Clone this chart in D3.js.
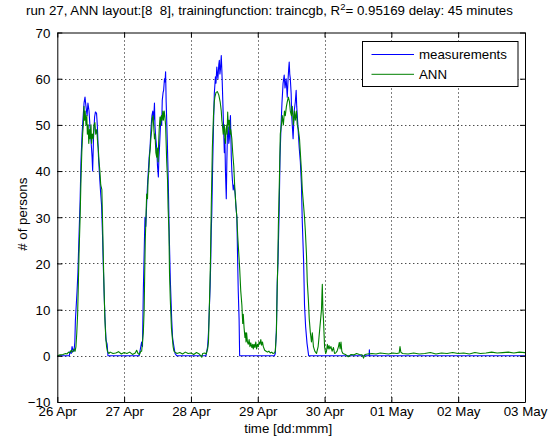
<!DOCTYPE html>
<html>
<head>
<meta charset="utf-8">
<script src="https://cdn.jsdelivr.net/npm/d3@7"></script>
<style>
  html, body { margin: 0; padding: 0; background: #fff; }
  svg { display: block; }
  text { font-family: "Liberation Sans", Arial, Helvetica, sans-serif; fill: #000; white-space: pre; }
</style>
</head>
<body>
<svg id="chart" width="550" height="439"></svg>
<script>
// ---------- data ----------
const titleMain = "run 27, ANN layout:[8  8], trainingfunction: traincgb, R";
const titleSup = "2";
const titleTail = "= 0.95169 delay: 45 minutes";
const xLabel = "time [dd:mmm]";
const yLabel = "# of persons";
const seriesNames = ["measurements", "ANN"];
const seriesColors = ["#0000ff", "#008000"];
const startDay = Date.UTC(2013, 3, 26);   // 26 Apr, 00:00
const dayTickLabels = ["26 Apr", "27 Apr", "28 Apr", "29 Apr", "30 Apr", "01 May", "02 May", "03 May"];
const yTicks = [-10, 0, 10, 20, 30, 40, 50, 60, 70];

// [hours since 26 Apr 00:00, persons]
const measurements = [
  [0,0],[4.3,0],[4.6,1],[5.0,0.5],[5.3,2],[5.7,1],[6.0,1],[6.3,3],[6.5,7.7],[7.1,14],[7.4,18],[7.8,26],
  [8.2,33.7],[8.5,42],[8.9,48],[9.2,51],[9.6,54.7],[9.95,56],[10.3,54],[10.7,52],[11,54.7],[11.4,53],
  [11.75,49.6],[12.1,46.7],[12.5,43],[12.7,40],[13,47],[13.4,51.7],[13.7,52.8],[14.1,52.5],[14.4,49.6],
  [14.8,43],[15.2,38.7],[15.5,35.9],[15.9,32.6],[16.2,27],[16.5,20],[16.8,14],[17.1,8.4],[17.5,3.4],
  [17.9,2.5],[18.2,0],
  [29.4,0],[29.7,1],[30.3,3],[30.6,2],[30.9,14],[31.3,25],[31.5,30],[31.8,28],[32.1,33],[32.4,37],
  [32.7,40],[33.0,43],[33.3,45],[33.7,49.6],[34.0,52],[34.3,53],[34.6,51],[34.9,54.7],[35.1,49.6],
  [35.4,47],[35.7,45],[36.0,41],[36.3,38.7],[36.5,43],[36.7,45],[37.0,49],[37.2,51.7],[37.5,50],
  [37.7,55.3],[38.0,57],[38.2,57.5],[38.5,60],[38.7,59.3],[38.9,61.5],[39.1,55],[39.3,51],[39.5,46.7],
  [39.7,42],[39.9,36.6],[40.2,26.5],[40.6,16.4],[41.1,7.7],[41.4,4],[41.7,2.7],[42.3,0.5],[42.9,0],
  [53.4,0],[53.7,1],[54.0,2],[54.3,5],[54.6,10],[54.9,15],[55.1,20],[55.3,27],[55.5,31],[55.8,41],
  [56.1,49.6],[56.4,56.8],[56.8,60.4],[57.0,59],[57.3,62.5],[57.5,61],[57.7,60],[58.0,63],[58.2,64],
  [58.4,61],[58.6,62],[58.9,65],[59.1,62],[59.3,58.2],[59.6,52],[59.8,48],[60.0,44],[60.2,47],[60.4,40],
  [60.6,36],[60.7,34],[60.9,42],[61.1,47.4],[61.4,49.6],[61.6,46],[61.8,47],[62.0,50],[62.2,52],
  [62.5,43],[62.7,40],[62.9,38],[63.2,35.9],[63.5,37],[63.9,35],[64.2,32],[64.5,30],[64.8,20],
  [65.0,14],[65.3,8],[65.5,0],
  [78.0,0],[78.3,0.5],[78.7,5.5],[79.0,15.7],[79.3,21],[79.7,31.5],[80.0,43],[80.4,50.3],[80.7,54.7],
  [81.1,59],[81.5,60.8],[81.8,58],[82.2,60],[82.6,56],[82.9,60],[83.1,62],[83.3,63.6],[83.5,61],
  [83.7,60],[84.0,56.8],[84.2,52],[84.4,50],[84.7,47],[84.9,50],[85.1,53],[85.5,55],[85.8,57.5],
  [86.0,54],[86.2,52],[86.6,48],[86.9,45],[87.3,42],[87.7,37],[88.0,29],[88.5,20],[88.8,11],
  [89.2,6.3],[89.7,2.7],[90.3,0],[112.0,0],[112.1,1.3],[112.2,0],[168,0]
];

const ann = [
  [0,0],[1,0.2],[2,0.3],[3,0.5],[3.5,0.4],[4,0.8],[4.5,0.6],[5,1.2],[5.5,0.8],[6,1.5],[6.4,1],[6.7,2],
  [7.0,5],[7.3,9],[7.5,14],[7.8,22],[8.2,30],[8.5,38],[8.8,44],[9.1,48],[9.35,50],[9.6,54],[9.8,51],
  [10,53],[10.3,50],[10.6,52],[10.8,48],[11.1,50],[11.3,46],[11.6,49],[11.8,47],[12.1,50],[12.3,46],
  [12.6,48],[12.9,47],[13.2,50],[13.5,50.5],[13.8,48],[14.2,49],[14.5,46],[14.7,45],[15.0,42],
  [15.3,40],[15.6,37],[16.0,36],[16.3,28],[16.5,22],[16.7,17],[16.9,12],[17.1,8],[17.4,4],[17.7,2],
  [18,1],[18.5,0.5],[19,0.8],[20,0.5],[21,0.6],[22,0.9],[23,0.4],[24,0.7],[25,0.5],[26,0.8],[27,0.3],
  [28,0.6],[28.5,1.2],[29,0.5],[29.5,0.3],[30,1],[30.3,1],[30.6,3],[30.9,5],[31.2,10],[31.4,18],
  [31.6,25],[31.9,31],[32.1,35],[32.4,34],[32.6,38],[32.9,40],[33.1,43],[33.4,45],[33.6,47],
  [33.9,48.8],[34.1,51.4],[34.4,52],[34.6,50],[34.9,47],[35.1,48],[35.4,44],[35.7,43],[35.9,45],
  [36.2,42],[36.4,46],[36.6,49],[36.9,51.7],[37.1,50],[37.4,52],[37.6,51],[37.9,53],[38.1,51],
  [38.4,53],[38.6,52],[38.9,50],[39.1,46],[39.3,42],[39.6,38],[39.8,32],[40.1,27],[40.3,18],
  [40.6,12],[40.8,9],[41.0,6],[41.3,4],[41.6,2],[41.9,1],[42.3,0.8],[43,0.5],[44,0.7],[45,0.4],
  [46,0.8],[47,0.5],[48,0.6],[49,0.3],[50,0.7],[51,0.4],[51.9,-0.3],[52.2,0.5],[53,0.6],[53.5,0.4],
  [54,1.5],[54.3,3],[54.6,10],[55.0,20],[55.3,32],[55.7,45],[56.1,52],[56.4,55],[56.6,56],[57.0,57],
  [57.5,57.2],[58.0,56.5],[58.5,55],[58.9,53],[59.1,51],[59.3,50],[59.6,48],[59.8,49],[60.0,50],
  [60.2,47],[60.4,46],[60.6,49],[60.9,50],[61.0,48],[61.2,52.8],[61.4,50],[61.6,51],[61.8,49],
  [61.9,51],[62.1,48],[62.3,49],[62.5,48],[62.7,47],[63.0,44],[63.4,41],[63.7,37],[64.1,33],
  [64.5,30],[64.8,26],[65.2,22],[65.5,19],[65.9,14],[66.3,11],[66.6,7],[66.8,9],[67.1,6],[67.4,4],
  [67.6,5],[67.8,3],[68.0,5],[68.3,3],[68.6,2.5],[68.9,3.5],[69.2,2],[69.5,2.8],[69.9,1.8],[70.2,2.5],
  [70.4,1.5],[70.7,2.5],[71.0,1.8],[71.3,3],[71.6,1.5],[71.9,2.5],[72.2,2],[72.5,3],[72.8,2.5],
  [73.1,3.5],[73.4,2.3],[73.7,3],[74,2],[74.5,1.2],[75,1],[75.5,0.8],[76,1],[76.5,0.6],[77,0.8],
  [77.5,0.5],[78,0.6],[78.3,1],[78.7,5],[79.0,15],[79.2,20],[79.4,28],[79.8,38.7],[80.1,48],
  [80.5,50],[80.8,52],[81.2,50],[81.6,53],[81.9,52],[82.3,54],[82.6,55],[83.0,56],[83.4,55],
  [83.7,53],[84.1,52],[84.4,54],[84.8,50],[85.2,53],[85.5,51],[85.9,53],[86.2,50],[86.6,49],
  [87.0,47],[87.3,44],[87.7,40],[88.0,36],[88.4,33],[88.8,30],[89.1,27],[89.5,22],[89.8,16],
  [90.2,12],[90.5,8],[90.9,5],[91.3,3],[91.6,5],[92.0,2],[92.5,1],[93.1,0.5],[93.7,2],[94.0,4],
  [94.3,6],[94.6,8],[94.9,10],[95.1,14],[95.2,15.5],[95.4,10],[95.6,8],[96.0,2],[96.4,0.5],[96.7,1],
  [97.0,2.5],[97.3,1.5],[97.6,2.2],[97.9,1.5],[98.3,2],[98.7,1],[99.2,1.8],[99.6,0.5],[100,0.6],
  [100.5,1],[101,2],[101.3,2.9],[101.6,1.5],[101.9,3],[102.2,1],[102.6,0.5],[103.5,0.3],[104.5,-0.2],
  [105.5,0.3],[106.5,0.2],[107.5,0.5],[108.5,0.3],[109.5,0.2],[110,-0.5],[110.5,0.3],[111.5,0.4],
  [113,0.5],[114.5,0.4],[116,0.6],[117.5,0.5],[119,0.4],[120.5,0.6],[122,0.5],[122.8,0.6],[123.1,2],
  [123.4,0.8],[124,0.5],[126,0.4],[128,0.6],[130,0.4],[132,0.5],[134,0.7],[136,0.4],[138,0.6],
  [140,0.5],[142,0.7],[144,0.5],[146,0.6],[148,0.4],[150,0.7],[152,0.5],[154,0.6],[156,0.8],
  [158,0.6],[160,0.7],[162,0.8],[164,0.6],[166,0.8],[168,0.7]
];

// ---------- layout ----------
const plot = { left: 57.3, right: 525, top: 32.5, bottom: 402 };
const HOUR = 3600 * 1000;
const toDate = h => new Date(startDay + h * HOUR);
const dayTicks = dayTickLabels.map((_, i) => toDate(i * 24));
const fs = 13.3;

const svg = d3.select("#chart");
const x = d3.scaleUtc().domain([toDate(0), toDate(168)]).range([plot.left, plot.right]);
const y = d3.scaleLinear().domain([-10, 70]).range([plot.bottom, plot.top]);

svg.append("rect").attr("x", plot.left).attr("y", plot.top)
  .attr("width", plot.right - plot.left).attr("height", plot.bottom - plot.top).attr("fill", "#fff");

// grid
const grid = svg.append("g").attr("stroke", "#000").attr("stroke-width", 1)
  .attr("stroke-dasharray", "1,3").attr("fill", "none");
grid.selectAll("line.gx").data(dayTicks.slice(1, -1)).join("line").attr("class", "gx")
  .attr("x1", d => Math.round(x(d)) + 0.5).attr("x2", d => Math.round(x(d)) + 0.5)
  .attr("y1", plot.top).attr("y2", plot.bottom);
grid.selectAll("line.gy").data(yTicks.slice(1, -1)).join("line").attr("class", "gy")
  .attr("y1", d => Math.round(y(d)) + 0.5).attr("y2", d => Math.round(y(d)) + 0.5)
  .attr("x1", plot.left).attr("x2", plot.right);

// series
const line = d3.line().x(d => x(toDate(d[0]))).y(d => y(d[1]));
svg.append("clipPath").attr("id", "clip").append("rect")
  .attr("x", plot.left).attr("y", plot.top).attr("width", plot.right - plot.left).attr("height", plot.bottom - plot.top);
const dataG = svg.append("g").attr("clip-path", "url(#clip)");
[measurements, ann].forEach((s, i) => {
  dataG.append("path").datum(s).attr("d", line)
    .attr("fill", "none").attr("stroke", seriesColors[i]).attr("stroke-width", 1.1)
    .attr("stroke-linejoin", "round");
});

// axes (ticks inside, MATLAB-style box)
const axB = svg.append("g").attr("transform", `translate(0,${plot.bottom})`)
  .call(d3.axisBottom(x).tickValues(dayTicks).tickFormat((d, i) => dayTickLabels[i])
    .tickSizeInner(-5).tickSizeOuter(0));
const axL = svg.append("g").attr("transform", `translate(${plot.left},0)`)
  .call(d3.axisLeft(y).tickValues(yTicks).tickSizeInner(-5).tickSizeOuter(0));
svg.append("g").attr("transform", `translate(0,${plot.top})`)
  .call(d3.axisTop(x).tickValues(dayTicks).tickFormat("").tickSizeInner(-5).tickSizeOuter(0));
svg.append("g").attr("transform", `translate(${plot.right},0)`)
  .call(d3.axisRight(y).tickValues(yTicks).tickFormat("").tickSizeInner(-5).tickSizeOuter(0));
svg.selectAll(".domain, .tick line").attr("stroke", "#000");
svg.selectAll(".tick text").attr("font-family", null).attr("font-size", null)
  .style("font-size", fs + "px").style("fill", "#000");
axB.selectAll("text").attr("y", 13.5).attr("dy", null);
axL.selectAll("text").attr("x", -7).attr("dy", "0.36em");

// axis labels
svg.append("text").attr("x", (plot.left + plot.right) / 2 - 3).attr("y", 432.5)
  .attr("text-anchor", "middle").style("font-size", fs + "px").text(xLabel);
svg.append("text").attr("transform", `translate(27,${(plot.top + plot.bottom) / 2 - 3}) rotate(-90)`)
  .attr("text-anchor", "middle").style("font-size", fs + "px").text(yLabel);

// title
const title = svg.append("text").attr("x", 26).attr("y", 14.5).style("font-size", fs + "px");
title.append("tspan").text(titleMain);
title.append("tspan").attr("dy", -5).style("font-size", "9.5px").text(titleSup);
title.append("tspan").attr("dy", 5).text(titleTail);

// legend
const lg = svg.append("g");
lg.append("rect").attr("x", 362.5).attr("y", 41.5).attr("width", 155.5).attr("height", 45)
  .attr("fill", "#fff").attr("stroke", "#000").attr("stroke-width", 1);
seriesNames.forEach((n, i) => {
  const ly = 54.5 + i * 19.8;
  lg.append("line").attr("x1", 371.5).attr("x2", 414).attr("y1", ly).attr("y2", ly)
    .attr("stroke", seriesColors[i]).attr("stroke-width", 1);
  lg.append("text").attr("x", 419).attr("y", ly + 4.7).style("font-size", fs + "px").text(n);
});
</script>
</body>
</html>
